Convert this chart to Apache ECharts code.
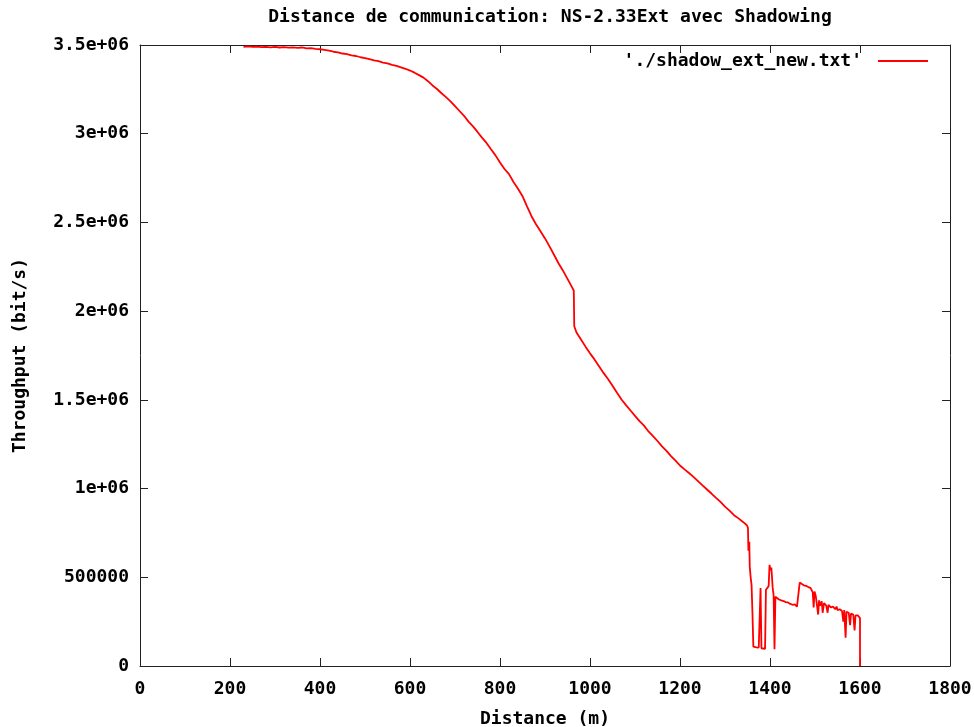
<!DOCTYPE html>
<html>
<head>
<meta charset="utf-8">
<script src="https://cdn.jsdelivr.net/npm/echarts@6/dist/echarts.min.js"></script>
<style>html,body{margin:0;padding:0;background:#fff}#c{width:974px;height:727px}</style>
</head>
<body>
<div id="c"></div>
<script>
const titleText = "Distance de communication: NS-2.33Ext avec Shadowing";
const seriesName = "'./shadow_ext_new.txt'";
const xTitle = "Distance (m)";
const yTitle = "Throughput (bit/s)";
const yTickLabels = ["0","500000","1e+06","1.5e+06","2e+06","2.5e+06","3e+06","3.5e+06"];

// distance (m)
const distance = [
230,240,250,260,270,280,290,300,310,320,330,340,350,360,370,380,390,400,
410,420,430,440,450,460,470,480,490,500,510,520,530,540,550,560,570,580,590,600,
610,620,630,640,650,660,670,680,690,700,710,720,730,740,750,760,770,780,790,800,
810,820,830,840,850,860,870,880,890,900,910,920,930,940,950,960,964,965,970,980,990,1000,
1010,1020,1030,1040,1050,1060,1070,1080,1090,1100,1110,1120,1130,1140,1150,1160,1170,1180,1190,1200,
1210,1220,1230,1240,1250,1260,1270,1280,1290,1300,1310,1320,1330,1340,1348,1350,
1351,1352,1354,1355,1357,1359,1361,1363,1366,1370,1375,1378,1379,1381,1385,1389,1391,1394,1397,1399,
1401,1403,1406,1408,1410,1412,1415,1420,1425,1430,1435,1440,1445,1450,1455,1460,1464,1466,1470,1475,
1480,1485,1490,1495,1497,1499,1502,1505,1507,1509,1512,1515,1517,1520,1525,1528,1530,1535,1540,1545,
1548,1550,1555,1560,1563,1565,1568,1570,1575,1578,1580,1585,1588,1590,1595,1598,1600,1600
];
// throughput (million bit/s)
const throughputM = [
3.490,3.492,3.489,3.491,3.488,3.490,3.487,3.489,3.486,3.488,3.485,3.487,3.484,3.486,3.481,3.482,3.478,3.476,
3.472,3.468,3.462,3.459,3.452,3.449,3.442,3.438,3.431,3.426,3.420,3.414,3.409,3.401,3.396,3.388,3.382,3.374,3.366,3.356,
3.344,3.330,3.316,3.296,3.272,3.252,3.228,3.206,3.182,3.155,3.128,3.101,3.068,3.041,3.010,2.978,2.948,2.912,2.878,2.838,
2.801,2.772,2.728,2.690,2.648,2.590,2.535,2.490,2.450,2.410,2.365,2.318,2.270,2.228,2.182,2.135,2.115,1.915,1.880,1.840,1.800,1.762,
1.728,1.690,1.652,1.618,1.580,1.540,1.502,1.470,1.440,1.410,1.380,1.355,1.322,1.296,1.268,1.238,1.212,1.183,1.158,1.130,
1.108,1.088,1.066,1.042,1.018,0.995,0.972,0.948,0.925,0.898,0.876,0.850,0.832,0.812,0.795,0.790,
0.780,0.650,0.700,0.560,0.500,0.457,0.300,0.109,0.108,0.105,0.104,0.105,0.440,0.100,0.098,0.096,0.430,0.420,0.450,0.570,
0.540,0.555,0.440,0.400,0.095,0.390,0.380,0.375,0.370,0.366,0.360,0.358,0.350,0.345,0.348,0.335,0.330,0.470,0.465,0.455,
0.452,0.445,0.440,0.415,0.330,0.420,0.390,0.380,0.290,0.370,0.340,0.365,0.300,0.355,0.340,0.300,0.345,0.330,0.335,0.320,
0.335,0.315,0.320,0.310,0.250,0.315,0.160,0.305,0.300,0.230,0.295,0.290,0.200,0.285,0.285,0.280,0.270,0
];

const data = distance.map((d, i) => [d, throughputM[i] * 1e6]);

const FONT = "'DejaVu Sans Mono', monospace";
const FS = 18;
const axisCol = '#222';
const chart = echarts.init(document.getElementById('c'), null, {renderer: 'canvas'});
const tickCommon = {show: true, inside: true, length: 8, lineStyle: {color: axisCol, width: 1}};
const txt = {fontFamily: FONT, fontSize: FS, fontWeight: 'bold', color: '#000'};
chart.setOption({
  animation: false,
  backgroundColor: '#fff',
  title: {
    text: titleText, left: 545, textAlign: 'center', top: 3,
    textStyle: txt
  },
  legend: {
    right: 46, top: 52, align: 'right', padding: 0,
    icon: 'rect', itemWidth: 50, itemHeight: 2,
    textStyle: Object.assign({}, txt, {padding: [0, 11, 0, 0]}),
    data: [seriesName]
  },
  grid: {left: 140, right: 24, top: 45, bottom: 61, show: false, outerBoundsMode: 'none', containLabel: false},
  xAxis: [{
    type: 'value', min: 0, max: 1800, interval: 200,
    name: xTitle, nameLocation: 'middle', nameGap: 44,
    nameTextStyle: txt,
    axisLine: {show: true, onZero: false, lineStyle: {color: axisCol, width: 1}},
    axisTick: tickCommon,
    axisLabel: Object.assign({}, txt, {margin: 14, formatter: v => String(v)}),
    splitLine: {show: false}
  }, {
    type: 'value', min: 0, max: 1800, interval: 200, position: 'top',
    axisLine: {show: true, onZero: false, lineStyle: {color: axisCol, width: 1}},
    axisTick: tickCommon, axisLabel: {show: false}, splitLine: {show: false}
  }],
  yAxis: [{
    type: 'value', min: 0, max: 3500000, interval: 500000,
    name: yTitle, nameLocation: 'middle', nameGap: 111, nameRotate: 90,
    nameTextStyle: txt,
    axisLine: {show: true, onZero: false, lineStyle: {color: axisCol, width: 1}},
    axisTick: tickCommon,
    axisLabel: Object.assign({}, txt, {
      margin: 11,
      formatter: v => yTickLabels[Math.round(v / 500000)]
    }),
    splitLine: {show: false}
  }, {
    type: 'value', min: 0, max: 3500000, interval: 500000, position: 'right',
    axisLine: {show: true, onZero: false, lineStyle: {color: axisCol, width: 1}},
    axisTick: tickCommon, axisLabel: {show: false}, splitLine: {show: false}
  }],
  series: [{
    name: seriesName, type: 'line', data: data,
    xAxisIndex: 0, yAxisIndex: 0,
    showSymbol: false, symbol: 'none',
    lineStyle: {color: '#ff0000', width: 1.8},
    itemStyle: {color: '#ff0000'}
  }]
});
</script>
</body>
</html>
